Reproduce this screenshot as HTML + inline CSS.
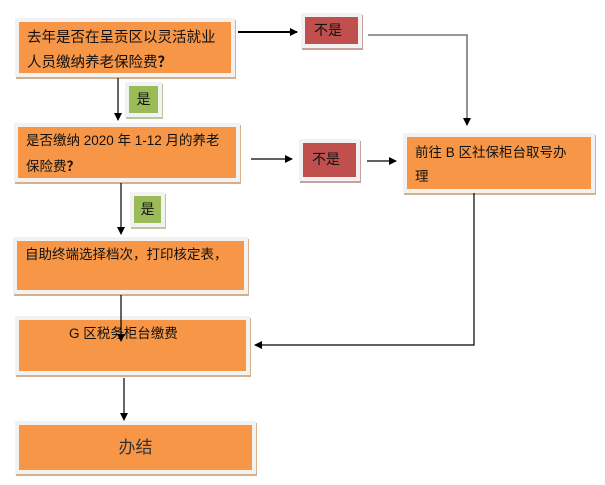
<!DOCTYPE html><html><head><meta charset="utf-8"><style>
body{margin:0;width:605px;height:485px;background:#fff;position:relative;overflow:hidden;font-family:"Liberation Sans","Noto Sans CJK SC",sans-serif;}
.b{position:absolute;background:#f2f2f2;box-shadow:1px 2px 0 #d4b08c;}
.b>div{position:absolute;left:4px;top:4px;right:4px;bottom:4px;font-size:14px;color:#111;line-height:24px;}
.o{background:#f79646}.r{background:#c0504d}.g{background:#9bbb59}
.q{font-family:"Noto Sans CJK SC",sans-serif;font-weight:bold}
svg{position:absolute;left:0;top:0}
</style></head><body>
<div class="b" style="left:15px;top:18px;width:220px;height:59px"><div class="o" style="padding:4px 8px;font-size:14.5px">去年是否在呈贡区以灵活就业<br>人员缴纳养老保险费<span class="q">？</span></div></div>
<div class="b" style="left:14px;top:123px;width:226px;height:59px"><div class="o" style="padding:2px 8px;font-size:13.5px">是否缴纳 2020 年 1-12 月的养老<br>保险费<span class="q">？</span></div></div>
<div class="b" style="left:13px;top:237px;width:235px;height:57px"><div class="o" style="padding:2px 8px;font-size:13.5px">自助终端选择档次，打印核定表，</div></div>
<div class="b" style="left:15px;top:316px;width:235px;height:59px"><div class="o" style="padding:2px 0 0 50px;font-size:13.5px">G 区税务柜台缴费</div></div>
<div class="b" style="left:15px;top:421px;width:241px;height:53px"><div class="o" style="text-align:center;line-height:46px;font-size:17px;color:#333">办结</div></div>
<div class="b" style="left:403px;top:133px;width:192px;height:60px"><div class="o" style="padding:4px 8px;font-size:13.5px">前往 B 区社保柜台取号办<br>理</div></div>
<div class="b" style="left:301px;top:13px;width:61px;height:35px;box-shadow:1px 2px 0 #c9a0a0"><div class="r" style="padding:0 9px;line-height:27px">不是</div></div>
<div class="b" style="left:299px;top:139px;width:61px;height:42px;box-shadow:1px 2px 0 #c9a0a0"><div class="r" style="padding:0 9px;line-height:32px">不是</div></div>
<div class="b" style="left:125px;top:82px;width:37px;height:35px;box-shadow:1px 2px 0 #b8c9a0"><div class="g" style="text-align:center;line-height:27px">是</div></div>
<div class="b" style="left:130px;top:192px;width:35px;height:35px;box-shadow:1px 2px 0 #b8c9a0"><div class="g" style="text-align:center;line-height:27px">是</div></div>
<svg width="605" height="485">
<defs><marker id="a" markerWidth="8" markerHeight="8" refX="7" refY="4" orient="auto" markerUnits="userSpaceOnUse"><path d="M0,0L8,4L0,8z" fill="#000"/></marker></defs>
<g stroke="#000" stroke-width="1.2" fill="none">
<path d="M238,32H297" stroke-width="2" marker-end="url(#a)"/>
<path d="M368,35H467V125" stroke="#777" stroke-width="1.6" marker-end="url(#a)"/>
<path d="M251,159H292" marker-end="url(#a)"/>
<path d="M367,161H396" marker-end="url(#a)"/>
<path d="M474,193V345H255" marker-end="url(#a)"/>
<path d="M118,78V120" marker-end="url(#a)"/>
<path d="M121,183V234" marker-end="url(#a)"/>
<path d="M121,295V341" marker-end="url(#a)"/>
<path d="M124,378V420" marker-end="url(#a)"/>
</g></svg>
</body></html>
